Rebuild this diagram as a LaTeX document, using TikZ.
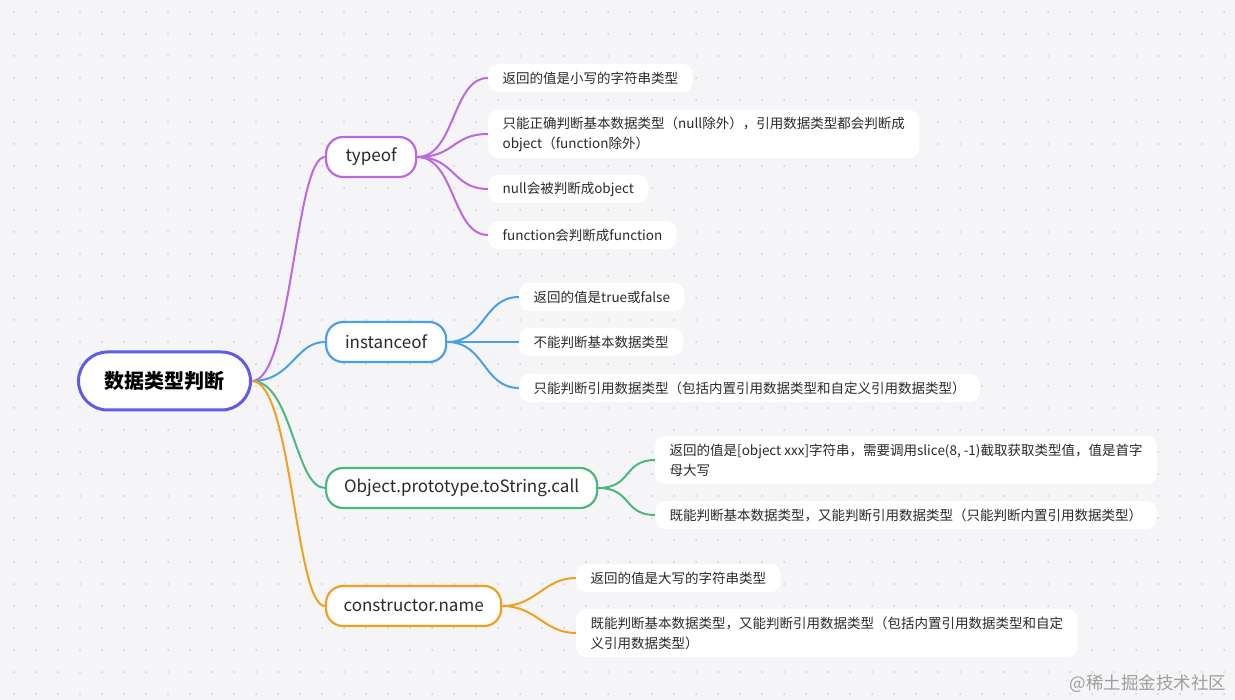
\documentclass[tikz,border=0pt]{standalone}
\usepackage{fontspec}
\setmainfont{Noto Sans CJK SC}
\definecolor{bg}{HTML}{F5F5F7}
\definecolor{dotc}{HTML}{CFCFD4}
\definecolor{rootc}{HTML}{5C5CE6}
\definecolor{purp}{HTML}{BB69E0}
\definecolor{blu}{HTML}{4AA0E8}
\definecolor{grn}{HTML}{4CB880}
\definecolor{org}{HTML}{F0A020}
\definecolor{txt}{HTML}{2A2A2A}
\pgfdeclarelayer{back}
\pgfsetlayers{back,main}
\begin{document}
\begin{tikzpicture}[x=1pt,y=-1pt,
  rootbox/.style={draw=rootc, line width=3pt, fill=white, rounded corners=29pt, minimum height=58pt, minimum width=172pt, anchor=west, font=\fontsize{20}{24}\selectfont\bfseries, text=black},
  branch/.style={draw=#1, line width=2.2pt, fill=white, rounded corners=17pt, minimum height=40pt, anchor=west, font=\fontsize{17}{20}\selectfont, text=txt},
  leaf/.style={fill=white, rounded corners=10pt, minimum height=28pt, inner xsep=14.5pt, inner ysep=4pt, anchor=west, align=left, font=\fontsize{13.5}{20}\selectfont, text=txt},
  leaftwo/.style={leaf, minimum height=48pt},
  conn/.style={draw=#1, line width=2pt}
]
\useasboundingbox (0,0) rectangle (1235,700);
\begin{pgfonlayer}{back}
\fill[bg] (0,0) rectangle (1235,700);
\foreach \i in {0,...,56} {
  \foreach \j in {0,...,31} {
    \fill[dotc] (14+22*\i, 12+22*\j) circle (1pt);
  }
}
\end{pgfonlayer}
% root
\node[rootbox] (root) at (77,381) {数据类型判断};
% branches
\node[branch=purp, minimum width=90pt] (b1) at (325,157) {typeof};
\node[branch=blu, minimum width=120pt] (b2) at (325,342) {instanceof};
\node[branch=grn, minimum width=271pt] (b3) at (325,488) {Object.prototype.toString.call};
\node[branch=org, minimum width=175pt] (b4) at (325,606) {constructor.name};
% leaves typeof
\node[leaf] (l11) at (488,78) {返回的值是小写的字符串类型};
\node[leaftwo] (l12) at (488,134) {只能正确判断基本数据类型（null除外），引用数据类型都会判断成\\object（function除外）};
\node[leaf] (l13) at (488,189) {null会被判断成object};
\node[leaf] (l14) at (488,235) {function会判断成function};
% leaves instanceof
\node[leaf] (l21) at (519,297) {返回的值是true或false};
\node[leaf] (l22) at (519,342) {不能判断基本数据类型};
\node[leaf] (l23) at (519,388) {只能判断引用数据类型（包括内置引用数据类型和自定义引用数据类型）};
% leaves Object
\node[leaftwo] (l31) at (655,460) {返回的值是[object xxx]字符串，需要调用slice(8, -1)截取获取类型值，值是首字\\母大写};
\node[leaf] (l32) at (655,515) {既能判断基本数据类型，又能判断引用数据类型（只能判断内置引用数据类型）};
% leaves constructor
\node[leaf] (l41) at (576,578) {返回的值是大写的字符串类型};
\node[leaftwo] (l42) at (576,633) {既能判断基本数据类型，又能判断引用数据类型（包括内置引用数据类型和自定\\义引用数据类型）};
\begin{pgfonlayer}{back}
% root connectors
\draw[conn=purp] (root.east) .. controls +(40,0) and +(-30,0) .. (b1.west);
\draw[conn=blu] (root.east) .. controls +(40,0) and +(-30,0) .. (b2.west);
\draw[conn=grn] (root.east) .. controls +(40,0) and +(-30,0) .. (b3.west);
\draw[conn=org] (root.east) .. controls +(40,0) and +(-30,0) .. (b4.west);
% branch connectors
\foreach \l in {l11,l12,l13,l14} {
  \draw[conn=purp] (b1.east) .. controls +(38,0) and +(-36,0) .. (\l.west);
}
\foreach \l in {l21,l22,l23} {
  \draw[conn=blu] (b2.east) .. controls +(38,0) and +(-36,0) .. (\l.west);
}
\foreach \l in {l31,l32} {
  \draw[conn=grn] (b3.east) .. controls +(34,0) and +(-32,0) .. (\l.west);
}
\foreach \l in {l41,l42} {
  \draw[conn=org] (b4.east) .. controls +(34,0) and +(-32,0) .. (\l.west);
}
\end{pgfonlayer}
% watermark
\node[anchor=east, text=black!38, font=\fontsize{17.5}{20}\selectfont] (wm) at (1230,684) {@稀土掘金技术社区};
\end{tikzpicture}
\end{document}
